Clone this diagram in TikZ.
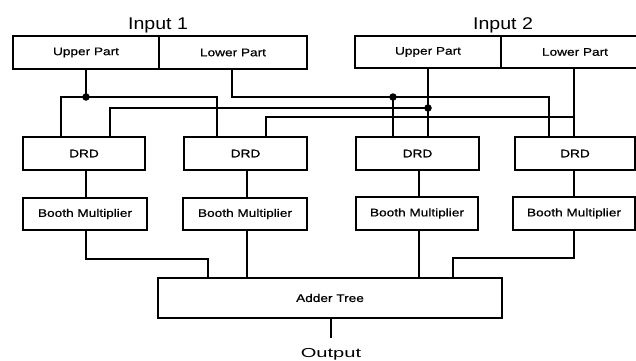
\documentclass[tikz,border=0pt]{standalone}
\usepackage{fontspec}
\setmainfont{Liberation Sans}
\newfontfamily\boxfont[FakeStretch=1.24,FakeBold=0.8]{Liberation Sans}
\newfontfamily\labfont[FakeStretch=1.15]{Liberation Sans}
\newfontfamily\outfont[FakeStretch=1.55]{Liberation Sans}
\begin{document}
\begin{tikzpicture}[x=1pt,y=-1pt,
  box/.style={draw=black, line width=1.6pt, inner sep=0pt, font=\boxfont\fontsize{11}{13}\selectfont},
  wire/.style={draw=black, line width=1.8pt},
  jdot/.style={fill=black, circle, inner sep=0pt, minimum size=7.5pt},
  lab/.style={inner sep=0pt, anchor=base, font=\labfont\fontsize{17}{20}\selectfont}]
\useasboundingbox (0,0) rectangle (636,360);
% labels
\node[lab] (in1) at (158,29) {Input 1};
\node[lab] (in2) at (503,29) {Input 2};
% top boxes
\node[box, minimum width=146pt, minimum height=33pt] (up1) at (86,52.5) {Upper Part};
\node[box, minimum width=148pt, minimum height=33pt] (low1) at (233,52.5) {Lower Part};
\node[box, minimum width=146pt, minimum height=32pt] (up2) at (428,52) {Upper Part};
\node[box, minimum width=148pt, minimum height=32pt] (low2) at (575,52) {Lower Part};
% DRD boxes
\node[box, minimum width=122pt, minimum height=33pt] (drd1) at (84,153.5) {DRD};
\node[box, minimum width=123pt, minimum height=33pt] (drd2) at (245.5,153.5) {DRD};
\node[box, minimum width=123pt, minimum height=33pt] (drd3) at (417.5,153.5) {DRD};
\node[box, minimum width=120pt, minimum height=33pt] (drd4) at (575,153.5) {DRD};
% Booth boxes
\node[box, minimum width=124pt, minimum height=32pt] (b1) at (85,214) {Booth Multiplier};
\node[box, minimum width=124pt, minimum height=32pt] (b2) at (245,214) {Booth Multiplier};
\node[box, minimum width=122pt, minimum height=33pt] (b3) at (417,213.5) {Booth Multiplier};
\node[box, minimum width=122pt, minimum height=33pt] (b4) at (574,213.5) {Booth Multiplier};
% adder
\node[box, minimum width=344pt, minimum height=40pt] (add) at (330,298) {Adder Tree};
\node[inner sep=0pt, anchor=base, font=\outfont\fontsize{13}{15}\selectfont] (out) at (331,357) {Output};
\coordinate (oend) at (331,338);
% coordinates
\coordinate (j1) at (86,97);
\coordinate (t1a) at (61,97);
\coordinate (t1b) at (217,97);
\coordinate (l1) at (232,97);
\coordinate (j2) at (393,97);
\coordinate (t2) at (549,97);
\coordinate (j3) at (428,108);
\coordinate (t3) at (110,108);
\coordinate (t4a) at (574,117);
\coordinate (t4b) at (266,117);
\coordinate (c1) at (208,259);
\coordinate (c4) at (453,258);
\coordinate (d1) at (86,0);
\coordinate (d2) at (247,0);
\coordinate (d3) at (419,0);
\coordinate (d4) at (574,0);
% input 1 upper
\draw[wire] (up1.south) -- (j1);
\draw[wire] (t1a |- drd1.north) -- (t1a) -- (t1b) -- (t1b |- drd2.north);
% input 1 lower
\draw[wire] (l1 |- low1.south) -- (l1) -- (t2) -- (t2 |- drd4.north);
\draw[wire] (j2) -- (j2 |- drd3.north);
% input 2 upper
\draw[wire] (up2.south) -- (up2.south |- drd3.north);
\draw[wire] (j3) -- (t3) -- (t3 |- drd1.north);
% input 2 lower
\draw[wire] (t4a |- low2.south) -- (t4a |- drd4.north);
\draw[wire] (t4a) -- (t4b) -- (t4b |- drd2.north);
% dots
\node[jdot] at (j1) {};
\node[jdot] at (j2) {};
\node[jdot] at (j3) {};
% DRD to Booth
\draw[wire] (d1 |- drd1.south) -- (d1 |- b1.north);
\draw[wire] (d2 |- drd2.south) -- (d2 |- b2.north);
\draw[wire] (d3 |- drd3.south) -- (d3 |- b3.north);
\draw[wire] (d4 |- drd4.south) -- (d4 |- b4.north);
% Booth to adder
\draw[wire] (d1 |- b1.south) |- (c1) -- (c1 |- add.north);
\draw[wire] (d2 |- b2.south) -- (d2 |- add.north);
\draw[wire] (d3 |- b3.south) -- (d3 |- add.north);
\draw[wire] (d4 |- b4.south) |- (c4) -- (c4 |- add.north);
% output
\draw[wire] (oend |- add.south) -- (oend);
\end{tikzpicture}
\end{document}
